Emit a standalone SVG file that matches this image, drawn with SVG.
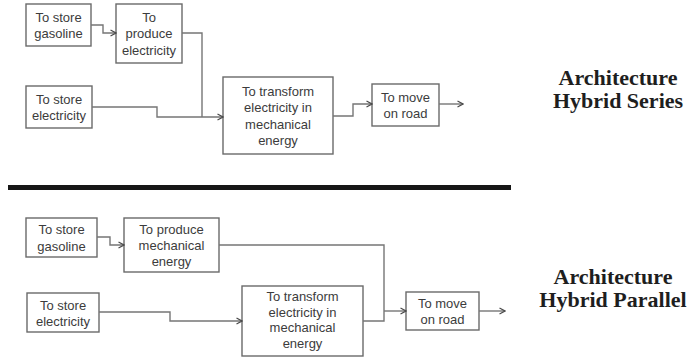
<svg xmlns="http://www.w3.org/2000/svg" width="687" height="358" viewBox="0 0 687 358">
  <style>
    .box rect { fill: #ffffff; stroke: #6a6a6a; stroke-width: 1.4; }
    .box text { font-family: "Liberation Sans", Arial, sans-serif; font-size: 13px; fill: #3c3c3c; text-anchor: middle; }
    .wire { fill: none; stroke: #767676; stroke-width: 1.4; }
    .title { font-family: "Liberation Serif", "Times New Roman", serif; font-weight: bold; font-size: 22px; fill: #1e1e1e; text-anchor: middle; }
  </style>
  <defs>
    <marker id="arrow" viewBox="0 0 8 8" refX="7" refY="4" markerWidth="8" markerHeight="8" markerUnits="userSpaceOnUse" orient="auto">
      <path d="M1.5,1 L7,4 L1.5,7" fill="none" stroke="#4a4a4a" stroke-width="1.2"/>
    </marker>
  </defs>
  <rect width="687" height="358" fill="#ffffff"/>

  <!-- Series architecture -->
  <g id="s-store-gasoline" class="box">
    <rect x="26" y="4" width="65" height="42"/>
    <text x="58.5" y="21.5">To store</text>
    <text x="58.5" y="38">gasoline</text>
  </g>
  <g id="s-produce-electricity" class="box">
    <rect x="116" y="4" width="66" height="59"/>
    <text x="149" y="21.5">To</text>
    <text x="149" y="38">produce</text>
    <text x="149" y="54.5">electricity</text>
  </g>
  <g id="s-store-electricity" class="box">
    <rect x="26" y="86" width="66" height="42"/>
    <text x="59" y="103.5">To store</text>
    <text x="59" y="120">electricity</text>
  </g>
  <g id="s-transform" class="box">
    <rect x="223" y="77" width="110" height="77"/>
    <text x="278" y="95.5">To transform</text>
    <text x="278" y="112">electricity in</text>
    <text x="278" y="128.5">mechanical</text>
    <text x="278" y="145">energy</text>
  </g>
  <g id="s-move" class="box">
    <rect x="372" y="84" width="67" height="42"/>
    <text x="405.5" y="101.5">To move</text>
    <text x="405.5" y="118">on road</text>
  </g>
  <text class="title" x="618" y="85">Architecture</text>
  <text class="title" x="618" y="108">Hybrid Series</text>

  <!-- Separator -->
  <rect x="8" y="185" width="503" height="5" fill="#161616"/>

  <!-- Parallel architecture -->
  <g id="p-store-gasoline" class="box">
    <rect x="26" y="218" width="71" height="39"/>
    <text x="61.5" y="234">To store</text>
    <text x="61.5" y="250.5">gasoline</text>
  </g>
  <g id="p-produce-mechanical" class="box">
    <rect x="124" y="218" width="95" height="54"/>
    <text x="171.5" y="233.5">To produce</text>
    <text x="171.5" y="250">mechanical</text>
    <text x="171.5" y="266">energy</text>
  </g>
  <g id="p-store-electricity" class="box">
    <rect x="27" y="293" width="72" height="39"/>
    <text x="63" y="309.5">To store</text>
    <text x="63" y="325.5">electricity</text>
  </g>
  <g id="p-transform" class="box">
    <rect x="242" y="286" width="121" height="70"/>
    <text x="302.5" y="301">To transform</text>
    <text x="302.5" y="316.5">electricity in</text>
    <text x="302.5" y="332">mechanical</text>
    <text x="302.5" y="347.5">energy</text>
  </g>
  <g id="p-move" class="box">
    <rect x="406" y="292" width="73" height="38"/>
    <text x="442.5" y="307.5">To move</text>
    <text x="442.5" y="323.5">on road</text>
  </g>
  <text class="title" x="613" y="284">Architecture</text>
  <text class="title" x="613" y="307">Hybrid Parallel</text>

  <!-- Connectors -->
  <g id="connectors">
    <path class="wire" d="M91,25 H103 V33 H116" marker-end="url(#arrow)"/>
    <path class="wire" d="M182,33 H202 V117"/>
    <path class="wire" d="M92,107 H157 V117 H223" marker-end="url(#arrow)"/>
    <path class="wire" d="M333,116 H353 V104 H372" marker-end="url(#arrow)"/>
    <path class="wire" d="M439,104 H463" marker-end="url(#arrow)"/>

    <path class="wire" d="M97,237 H110 V245 H124" marker-end="url(#arrow)"/>
    <path class="wire" d="M99,312 H170 V321 H242" marker-end="url(#arrow)"/>
    <path class="wire" d="M219,245 H384 V321 H363"/>
    <path class="wire" d="M384,311 H406" marker-end="url(#arrow)"/>
    <path class="wire" d="M479,311 H505" marker-end="url(#arrow)"/>
  </g>
</svg>
